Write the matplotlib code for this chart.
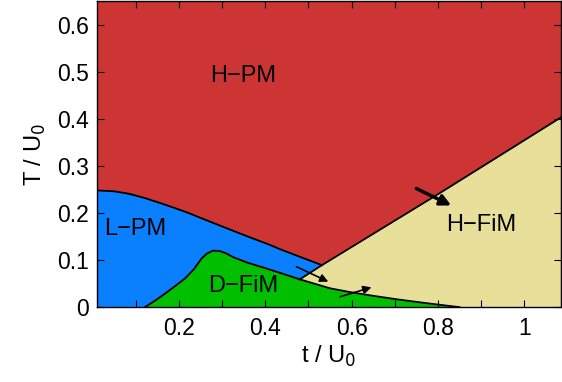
import numpy as np
import matplotlib
matplotlib.use('Agg')
from matplotlib import pyplot as plt
from matplotlib.ticker import MultipleLocator, FormatStrFormatter

plt.rcParams['font.family'] = ['Liberation Sans', 'DejaVu Sans']

# phase boundaries
lpm_t = [0.01, 0.05, 0.083, 0.12, 0.16, 0.195, 0.222, 0.249, 0.279, 0.326, 0.365, 0.403, 0.44, 0.48, 0.526, 0.531]
lpm_T = [0.248, 0.246, 0.241, 0.232, 0.220, 0.209, 0.200, 0.190, 0.179, 0.162, 0.148, 0.135, 0.121, 0.107, 0.091, 0.089]

dfim_t = [0.121, 0.145, 0.168, 0.19, 0.214, 0.235, 0.252, 0.265, 0.279, 0.295, 0.31, 0.326, 0.36, 0.403,
          0.44, 0.48, 0.55, 0.596, 0.65, 0.71, 0.76, 0.804, 0.85]
dfim_T = [0.0, 0.014, 0.029, 0.044, 0.061, 0.081, 0.103, 0.114, 0.120, 0.119, 0.114, 0.106, 0.094, 0.082,
          0.071, 0.059, 0.040, 0.032, 0.024, 0.016, 0.010, 0.005, 0.0]

hfim_t = [0.48, 0.531, 0.804, 1.085]
hfim_T = [0.059, 0.089, 0.242, 0.403]

# arrows: (start t, start T, end t, end T, width)
arrows = [(0.75, 0.252, 0.831, 0.216, 2.5),
          (0.472, 0.086, 0.546, 0.054, 1.2),
          (0.573, 0.022, 0.646, 0.042, 1.2)]

labels = [('H\u2212PM', 0.272, 0.478), ('L\u2212PM', 0.027, 0.153), ('D\u2212FiM', 0.268, 0.0325),
          ('H\u2212FiM', 0.82, 0.161)]

c_red = '#CD3535'
c_blue = '#0A80FF'
c_green = '#00BE00'
c_yellow = '#E8E09A'

xmin, xmax = 0.01, 1.085
ymin, ymax = 0.0, 0.65

fig = plt.figure(figsize=(5.62, 3.82), dpi=100)
ax = fig.add_axes([0.1726, 0.196, 0.8254, 0.801])
ax.set_facecolor(c_red)

ax.fill_between(lpm_t, 0, lpm_T, color=c_blue, lw=0)
ax.fill(hfim_t + [xmax, hfim_t[0]], hfim_T + [0, 0], color=c_yellow, lw=0)
ax.fill_between(dfim_t, 0, dfim_T, color=c_green, lw=0)

ax.plot(lpm_t, lpm_T, color='k', lw=1.3)
ax.plot(dfim_t, dfim_T, color='k', lw=1.3)
ax.plot(hfim_t, hfim_T, color='k', lw=1.3)

for t0, T0, t1, T1, w in arrows:
    ax.annotate('', xy=(t1, T1), xytext=(t0, T0),
                arrowprops=dict(arrowstyle='-|>', color='k', lw=w,
                                mutation_scale=12 if w < 2 else 16, shrinkA=0, shrinkB=0))

for txt, x, y in labels:
    ax.text(x, y, txt, fontsize=17, ha='left', va='baseline')

ax.set_xlim(xmin, xmax)
ax.set_ylim(ymin, ymax)
ax.xaxis.set_major_locator(MultipleLocator(0.2))
ax.xaxis.set_minor_locator(MultipleLocator(0.1))
ax.yaxis.set_major_locator(MultipleLocator(0.1))
ax.xaxis.set_major_formatter(FormatStrFormatter('%g'))
ax.yaxis.set_major_formatter(FormatStrFormatter('%g'))
ax.tick_params(which='both', direction='in', top=True, right=True, labelsize=16.5, length=5, width=0.8)
ax.tick_params(axis='x', pad=7)
ax.tick_params(axis='y', pad=6)
ax.set_xlabel('t / U$_0$', fontsize=17, labelpad=3)
ax.set_ylabel('T / U$_0$', fontsize=17, labelpad=6)
for s in ax.spines.values():
    s.set_linewidth(1.0)

fig.savefig('out.png', dpi=100)
